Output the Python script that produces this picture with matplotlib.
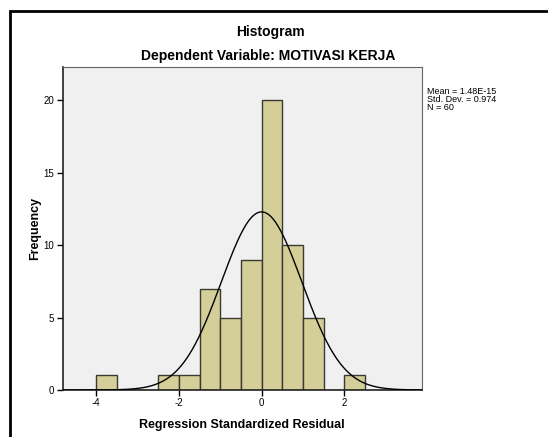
import numpy as np
import matplotlib
matplotlib.use('Agg')
import matplotlib.pyplot as plt
from matplotlib.patches import Rectangle

plt.rcParams['font.family'] = ['Liberation Sans', 'DejaVu Sans']
plt.rcParams['axes.unicode_minus'] = False

# histogram of regression standardized residuals (bin width 0.5)
bin_edges = [-4.0, -3.5, -3.0, -2.5, -2.0, -1.5, -1.0, -0.5, 0.0, 0.5, 1.0, 1.5, 2.0, 2.5]
counts = [1, 0, 0, 1, 1, 7, 5, 9, 20, 10, 5, 0, 1]
mean = 1.48e-15
std_dev = 0.974
n_obs = 60
x_ticks = [-4, -2, 0, 2]
y_ticks = [0, 5, 10, 15, 20]


def main():
    fig = plt.figure(figsize=(5.48, 4.37), dpi=100)
    ax = fig.add_axes([0.1144, 0.1076, 0.655, 0.738])
    ax.set_facecolor('#f0f0f0')

    lefts = np.array(bin_edges[:-1])
    widths = np.diff(bin_edges)
    ax.bar(lefts, counts, width=widths, align='edge', color='#d4cf99',
           edgecolor='#3a3a30', linewidth=1.0, zorder=2)

    # normal curve scaled to frequency
    bw = widths[0]
    xs = np.linspace(-4.81, 3.87, 400)
    ys = n_obs * bw * np.exp(-0.5 * ((xs - mean) / std_dev) ** 2) / (std_dev * np.sqrt(2 * np.pi))
    ax.plot(xs, ys, color='black', linewidth=1.0, zorder=3)

    ax.set_xlim(-4.81, 3.87)
    ax.set_ylim(0, 22.25)
    ax.set_xticks(x_ticks)
    ax.set_yticks(y_ticks)
    ax.tick_params(direction='out', length=4, width=1, labelsize=7, pad=2)
    for side in ['top', 'right']:
        ax.spines[side].set_color('#666666')
    for side in ['left', 'bottom']:
        ax.spines[side].set_color('#222222')
        ax.spines[side].set_linewidth(1.2)

    ax.set_xlabel('Regression Standardized Residual', fontsize=9, fontweight='bold', labelpad=8)
    ax.set_ylabel('Frequency', fontsize=9, fontweight='bold', labelpad=2)

    fig.text(0.494, 0.927, 'Histogram', ha='center', va='center', fontsize=10, fontweight='bold')
    fig.text(0.49, 0.872, 'Dependent Variable: MOTIVASI KERJA', ha='center', va='center',
             fontsize=10, fontweight='bold')
    fig.text(0.779, 0.802, f'Mean = {mean:.2E}'.replace('E-0', 'E-') + f'\nStd. Dev. = {std_dev}\nN = {n_obs}',
             ha='left', va='top', fontsize=6.5, linespacing=0.9)

    # outer frame
    fig.patches.append(Rectangle((10 / 548, -0.1), 1.2, 1.075, transform=fig.transFigure,
                                 fill=False, edgecolor='black', linewidth=2, clip_on=False))

    fig.savefig('out.png', dpi=100)


if __name__ == '__main__':
    main()
